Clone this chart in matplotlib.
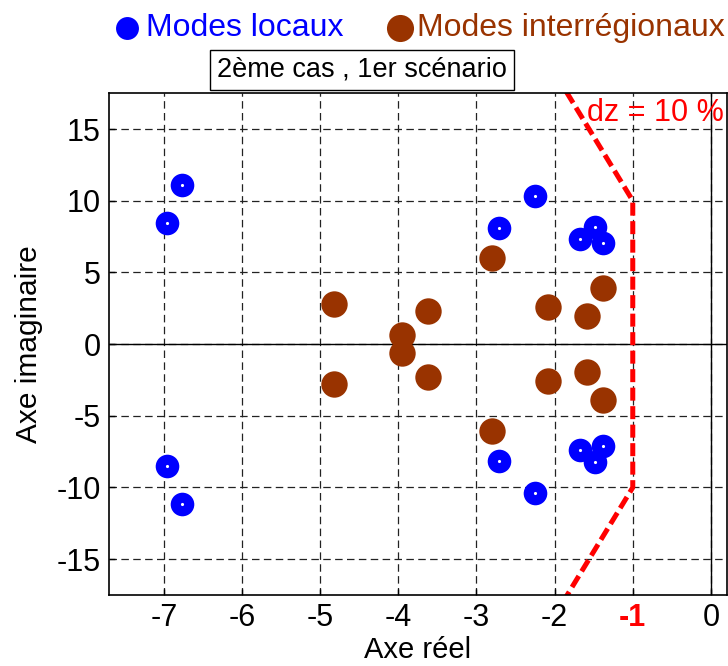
import matplotlib
matplotlib.use("Agg")
import matplotlib.pyplot as plt
from matplotlib.lines import Line2D

plt.rcParams['font.family'] = ['Liberation Sans', 'DejaVu Sans']

# Local modes (blue), upper half-plane (conjugates mirrored)
loc_re = [-6.77, -6.96, -2.25, -2.71, -1.67, -1.48, -1.38]
loc_im = [11.13, 8.48, 10.36, 8.13, 7.36, 8.20, 7.08]
# Inter-area modes (brown), upper half-plane
int_re = [-4.82, -3.95, -3.62, -2.80, -2.08, -1.58, -1.38]
int_im = [2.80, 0.62, 2.30, 6.03, 2.58, 1.95, 3.90]

# Damping boundary line dz = 10 %
dz_re = [-1.85, -1.0, -1.0, -1.85]
dz_im = [17.6, 10.0, -10.0, -17.6]

xticks = [-7, -6, -5, -4, -3, -2, -1, 0]
yticks = [-15, -10, -5, 0, 5, 10, 15]

blue = '#0000FF'
brown = '#993300'

fig = plt.figure(figsize=(7.28, 6.66), dpi=100)
ax = fig.add_axes([0.150, 0.1066, 0.848, 0.7534])

ax.set_xlim(-7.7, 0.2)
ax.set_ylim(-17.5, 17.5)

ax.set_xticks(xticks)
ax.set_yticks(yticks)
ax.grid(True, color='#222222', linestyle=(0, (6, 3.5)), linewidth=0.9)
ax.axhline(0, color='black', linewidth=1.0)
ax.axvline(0, color='black', linewidth=1.0)

all_loc_re = loc_re + loc_re
all_loc_im = loc_im + [-v for v in loc_im]
all_int_re = int_re + int_re
all_int_im = int_im + [-v for v in int_im]

ax.plot(dz_re, dz_im, color='#FF0000', linewidth=3.6, linestyle=(0, (2.6, 1.1)), zorder=2)

h1, = ax.plot(all_loc_re, all_loc_im, 'o', color=blue, markersize=17,
              markeredgewidth=0, zorder=4, label='Modes locaux')
ax.plot(all_loc_re, all_loc_im, '.', color='white', markersize=2.5, zorder=5)
h2, = ax.plot(all_int_re, all_int_im, 'o', color=brown, markersize=19,
              markeredgewidth=0, zorder=3, label='Modes interrégionaux')

ax.text(-1.59, 16.1, 'dz = 10 %', color='#FF0000', fontsize=22, va='center', ha='left',
        clip_on=False)

ax.tick_params(direction='in', length=4, labelsize=22, width=1, pad=6)
ax.set_xticklabels([str(t) for t in xticks])
for t, lab in zip(xticks, ax.get_xticklabels()):
    if t == -1:
        lab.set_color('#FF0000')
        lab.set_fontweight('bold')
ax.set_yticklabels([str(t) for t in yticks])

for sp in ax.spines.values():
    sp.set_linewidth(1.2)

ax.set_xlabel('Axe réel', fontsize=21, labelpad=2)
ax.set_ylabel('Axe imaginaire', fontsize=21.5, labelpad=10)

fig.text(0.497, 0.895, '2ème cas , 1er scénario', fontsize=19.5, ha='center', va='center',
         bbox=dict(boxstyle='square,pad=0.25', facecolor='white', edgecolor='black', linewidth=1))

# Legend drawn above the axes
fig.add_artist(Line2D([127 / 728], [1 - 28 / 666], marker='o', color=blue, markersize=16.5,
                      markeredgewidth=0, linestyle='none', transform=fig.transFigure))
fig.text(146 / 728, 1 - 28 / 666, h1.get_label(), color=blue, fontsize=23,
         ha='left', va='center')
fig.add_artist(Line2D([400 / 728], [1 - 28 / 666], marker='o', color=brown, markersize=19.5,
                      markeredgewidth=0, linestyle='none', transform=fig.transFigure))
fig.text(417 / 728, 1 - 28 / 666, h2.get_label(), color=brown, fontsize=23,
         ha='left', va='center')

fig.savefig('out.png', dpi=100)
